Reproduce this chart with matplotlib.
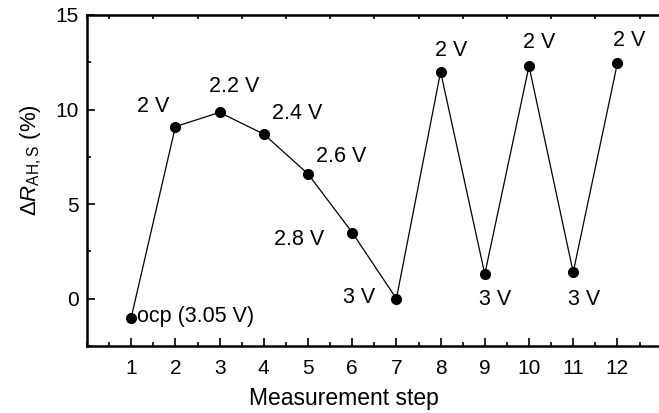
import matplotlib
matplotlib.use("Agg")
import matplotlib.pyplot as plt
from matplotlib.ticker import MultipleLocator

plt.rcParams['font.family'] = ['Liberation Sans', 'DejaVu Sans']
plt.rcParams['mathtext.fontset'] = 'custom'
plt.rcParams['mathtext.rm'] = 'Liberation Sans'
plt.rcParams['mathtext.it'] = 'Liberation Sans:italic'

steps = [1, 2, 3, 4, 5, 6, 7, 8, 9, 10, 11, 12]
delta_r = [-1.0, 9.1, 9.85, 8.7, 6.6, 3.5, 0.0, 12.0, 1.3, 12.3, 1.4, 12.45]
labels = ["ocp (3.05 V)", "2 V", "2.2 V", "2.4 V", "2.6 V", "2.8 V", "3 V",
          "2 V", "3 V", "2 V", "3 V", "2 V"]
# label offsets in pixels (dx, dy) and alignment
offsets = [(6, 1, 'left', 'center'), (-6, 10, 'right', 'bottom'), (15, 15, 'center', 'bottom'),
           (8, 10, 'left', 'bottom'), (8, 7, 'left', 'bottom'), (-28, -7, 'right', 'center'),
           (-21, 1, 'right', 'center'), (11, 11, 'center', 'bottom'), (10, -15, 'center', 'top'),
           (10, 13, 'center', 'bottom'), (11, -17, 'center', 'top'), (12, 12, 'center', 'bottom')]

fig = plt.figure(figsize=(6.59, 4.13), dpi=100)
ax = fig.add_axes([87/659, 1 - 346/413, (661.6 - 87)/659, (346 - 15)/413])

ax.plot(steps, delta_r, color='black', lw=0.9, marker='o', ms=7, mfc='black', mec='black', clip_on=False)

for x, y, lab, (dx, dy, ha, va) in zip(steps, delta_r, labels, offsets):
    ax.annotate(lab, (x, y), xytext=(dx, dy), textcoords='offset pixels',
                ha=ha, va=va, fontsize=15.5)

ax.set_xlim(0, 13)
ax.set_ylim(-2.5, 15)
ax.set_xticks(steps)
ax.xaxis.set_minor_locator(MultipleLocator(0.5))
ax.yaxis.set_major_locator(MultipleLocator(5))
ax.yaxis.set_minor_locator(MultipleLocator(2.5))
ax.tick_params(which='both', direction='in', top=True, right=False, labelsize=15, width=1.2)
ax.tick_params(which='major', length=6)
ax.tick_params(axis='y', which='major', pad=6)
ax.tick_params(axis='x', which='major', pad=9)
ax.tick_params(which='minor', length=3)
ax.tick_params(axis='x', which='major', top=False)
for s in ax.spines.values():
    s.set_linewidth(1.8)

ax.set_xlabel('Measurement step', fontsize=16.5)
ax.set_ylabel(r'$\Delta R_{\rm AH,S}$ (%)', fontsize=16)
ax.xaxis.set_label_coords((344 - 87) / 574.6, -(387 - 346) / 331)
ax.yaxis.set_label_coords((44 - 87) / 574.6, (346 - 160) / 331)

fig.savefig('out.png', dpi=100)
